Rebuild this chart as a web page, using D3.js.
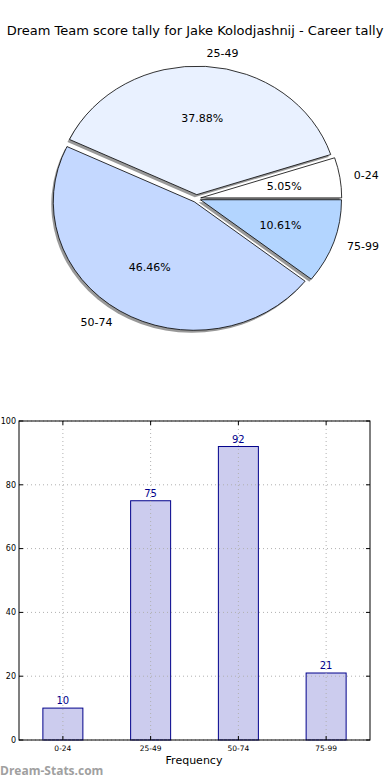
<!DOCTYPE html>
<html>
<head>
<meta charset="utf-8">
<script src="https://cdn.jsdelivr.net/npm/d3@7"></script>
<style>
  body { margin: 0; background: #fff; }
  svg { display: block; font-family: "DejaVu Sans", sans-serif; }
</style>
</head>
<body>
<svg id="svg" width="390" height="780"></svg>
<script>
var title = 'Dream Team score tally for Jake Kolodjashnij - Career tally';
var categories = ['0-24', '25-49', '50-74', '75-99'];
var counts = [10, 75, 92, 21];
var pieColors = ['#ffffff', '#e9f1ff', '#c4d8ff', '#b3d5ff'];
var yTicks = [0, 20, 40, 60, 80, 100];

var svg = d3.select('svg');

svg.append('text')
    .attr('x', 195)
    .attr('y', 35)
    .attr('text-anchor', 'middle')
    .attr('font-size', 13)
    .text(title);

// ---- pie (matplotlib style: start at 3 o'clock, counterclockwise, elliptical)
var cx = 196.5, cy = 198.5, rx = 141, ry = 128.5;
var explode = 0.03;
var total = d3.sum(counts);

var pie = d3.pie().sort(null)
    .startAngle(Math.PI / 2)
    .endAngle(Math.PI / 2 - 2 * Math.PI);
var arcs = pie(counts);

var arc = d3.arc().innerRadius(0).outerRadius(rx);

// d3 angle -> math angle
function mid(d) {
  var a = (d.startAngle + d.endAngle) / 2;
  return Math.PI / 2 - a;
}

var pieG = svg.append('g');

arcs.forEach(function (d, i) {
  var m = mid(d);
  d.ox = cx + explode * rx * Math.cos(m);
  d.oy = cy - explode * ry * Math.sin(m);
  d.m = m;
});

// shadows
pieG.selectAll('.shadow')
    .data(arcs)
    .enter()
    .append('path')
    .attr('class', 'shadow')
    .attr('d', arc)
    .attr('transform', function (d) {
      return 'translate(' + (d.ox - 2) + ',' + (d.oy + 2.5) + ') scale(1,' + (ry / rx) + ')';
    })
    .attr('fill', '#7f7f7f')
    .attr('opacity', 0.8);

pieG.selectAll('.wedge')
    .data(arcs)
    .enter()
    .append('path')
    .attr('class', 'wedge')
    .attr('d', arc)
    .attr('transform', function (d) {
      return 'translate(' + d.ox + ',' + d.oy + ') scale(1,' + (ry / rx) + ')';
    })
    .attr('fill', function (d, i) { return pieColors[i]; })
    .attr('stroke', '#000')
    .attr('stroke-width', 0.8)
    .attr('vector-effect', 'non-scaling-stroke');

pieG.selectAll('.lbl')
    .data(arcs)
    .enter()
    .append('text')
    .attr('class', 'lbl')
    .attr('x', function (d) { return d.ox + 1.1 * rx * Math.cos(d.m); })
    .attr('y', function (d) { return d.oy - 1.1 * ry * Math.sin(d.m); })
    .attr('dy', '0.35em')
    .attr('text-anchor', function (d) { return Math.cos(d.m) > 0 ? 'start' : 'end'; })
    .attr('font-size', 11)
    .text(function (d, i) { return categories[i]; });

pieG.selectAll('.pct')
    .data(arcs)
    .enter()
    .append('text')
    .attr('class', 'pct')
    .attr('x', function (d) { return d.ox + 0.6 * rx * Math.cos(d.m); })
    .attr('y', function (d) { return d.oy - 0.6 * ry * Math.sin(d.m); })
    .attr('dy', '0.35em')
    .attr('text-anchor', 'middle')
    .attr('font-size', 11)
    .text(function (d) { return (d.value / total * 100).toFixed(2) + '%'; });

// ---- bar chart
var plotLeft = 19, plotRight = 370, plotTop = 421, plotBottom = 740;

var x = d3.scalePoint()
    .domain(categories)
    .range([plotLeft, plotRight])
    .padding(0.5);

var y = d3.scaleLinear()
    .domain([0, 100])
    .range([plotBottom, plotTop]);

var barW = 40;
var chart = svg.append('g');

chart.selectAll('.bar')
    .data(counts)
    .enter()
    .append('rect')
    .attr('class', 'bar')
    .attr('x', function (d, i) { return x(categories[i]) - barW / 2; })
    .attr('y', function (d) { return y(d); })
    .attr('width', barW)
    .attr('height', function (d) { return plotBottom - y(d); })
    .attr('fill', '#ccccee')
    .attr('stroke', '#00008b')
    .attr('stroke-width', 1);

// grid (drawn over bars)
chart.selectAll('.hgrid')
    .data(yTicks)
    .enter()
    .append('line')
    .attr('x1', plotLeft).attr('x2', plotRight)
    .attr('y1', function (d) { return y(d); })
    .attr('y2', function (d) { return y(d); })
    .attr('stroke', '#b0b0b0')
    .attr('stroke-width', 1)
    .attr('stroke-dasharray', '1,3');

chart.selectAll('.vgrid')
    .data(categories)
    .enter()
    .append('line')
    .attr('x1', function (d) { return x(d); })
    .attr('x2', function (d) { return x(d); })
    .attr('y1', plotTop).attr('y2', plotBottom)
    .attr('stroke', '#b0b0b0')
    .attr('stroke-width', 1)
    .attr('stroke-dasharray', '1,3');

chart.selectAll('.val')
    .data(counts)
    .enter()
    .append('text')
    .attr('x', function (d, i) { return x(categories[i]); })
    .attr('y', function (d) { return y(d) - 4; })
    .attr('text-anchor', 'middle')
    .attr('font-size', 10)
    .attr('fill', '#00008b')
    .text(function (d) { return d; });

chart.append('rect')
    .attr('x', plotLeft).attr('y', plotTop)
    .attr('width', plotRight - plotLeft).attr('height', plotBottom - plotTop)
    .attr('fill', 'none')
    .attr('stroke', '#000')
    .attr('stroke-width', 1);

// ticks (inward) and labels
yTicks.forEach(function (t) {
  chart.append('line')
      .attr('x1', plotLeft).attr('x2', plotLeft + 4)
      .attr('y1', y(t)).attr('y2', y(t))
      .attr('stroke', '#000');
  chart.append('line')
      .attr('x1', plotRight - 4).attr('x2', plotRight)
      .attr('y1', y(t)).attr('y2', y(t))
      .attr('stroke', '#000');
});

chart.selectAll('.ytl')
    .data(yTicks)
    .enter()
    .append('text')
    .attr('x', plotLeft - 3)
    .attr('y', function (d) { return y(d); })
    .attr('dy', '0.35em')
    .attr('text-anchor', 'end')
    .attr('font-size', 8)
    .text(function (d) { return d; });

categories.forEach(function (c) {
  chart.append('line')
      .attr('x1', x(c)).attr('x2', x(c))
      .attr('y1', plotBottom).attr('y2', plotBottom - 4)
      .attr('stroke', '#000');
  chart.append('line')
      .attr('x1', x(c)).attr('x2', x(c))
      .attr('y1', plotTop).attr('y2', plotTop + 4)
      .attr('stroke', '#000');
});

chart.selectAll('.xtl')
    .data(categories)
    .enter()
    .append('text')
    .attr('x', function (d) { return x(d); })
    .attr('y', plotBottom + 11)
    .attr('text-anchor', 'middle')
    .attr('font-size', 7.5)
    .text(function (d) { return d; });

svg.append('text')
    .attr('x', 194)
    .attr('y', 764)
    .attr('text-anchor', 'middle')
    .attr('font-size', 11)
    .text('Frequency');

svg.append('text')
    .attr('x', 0)
    .attr('y', 775)
    .attr('font-size', 12)
    .attr('font-weight', 'bold')
    .attr('fill', '#a0a0a0')
    .attr('font-family', '"Open Sans", sans-serif')
    .text('Dream-Stats.com');
</script>
</body>
</html>
